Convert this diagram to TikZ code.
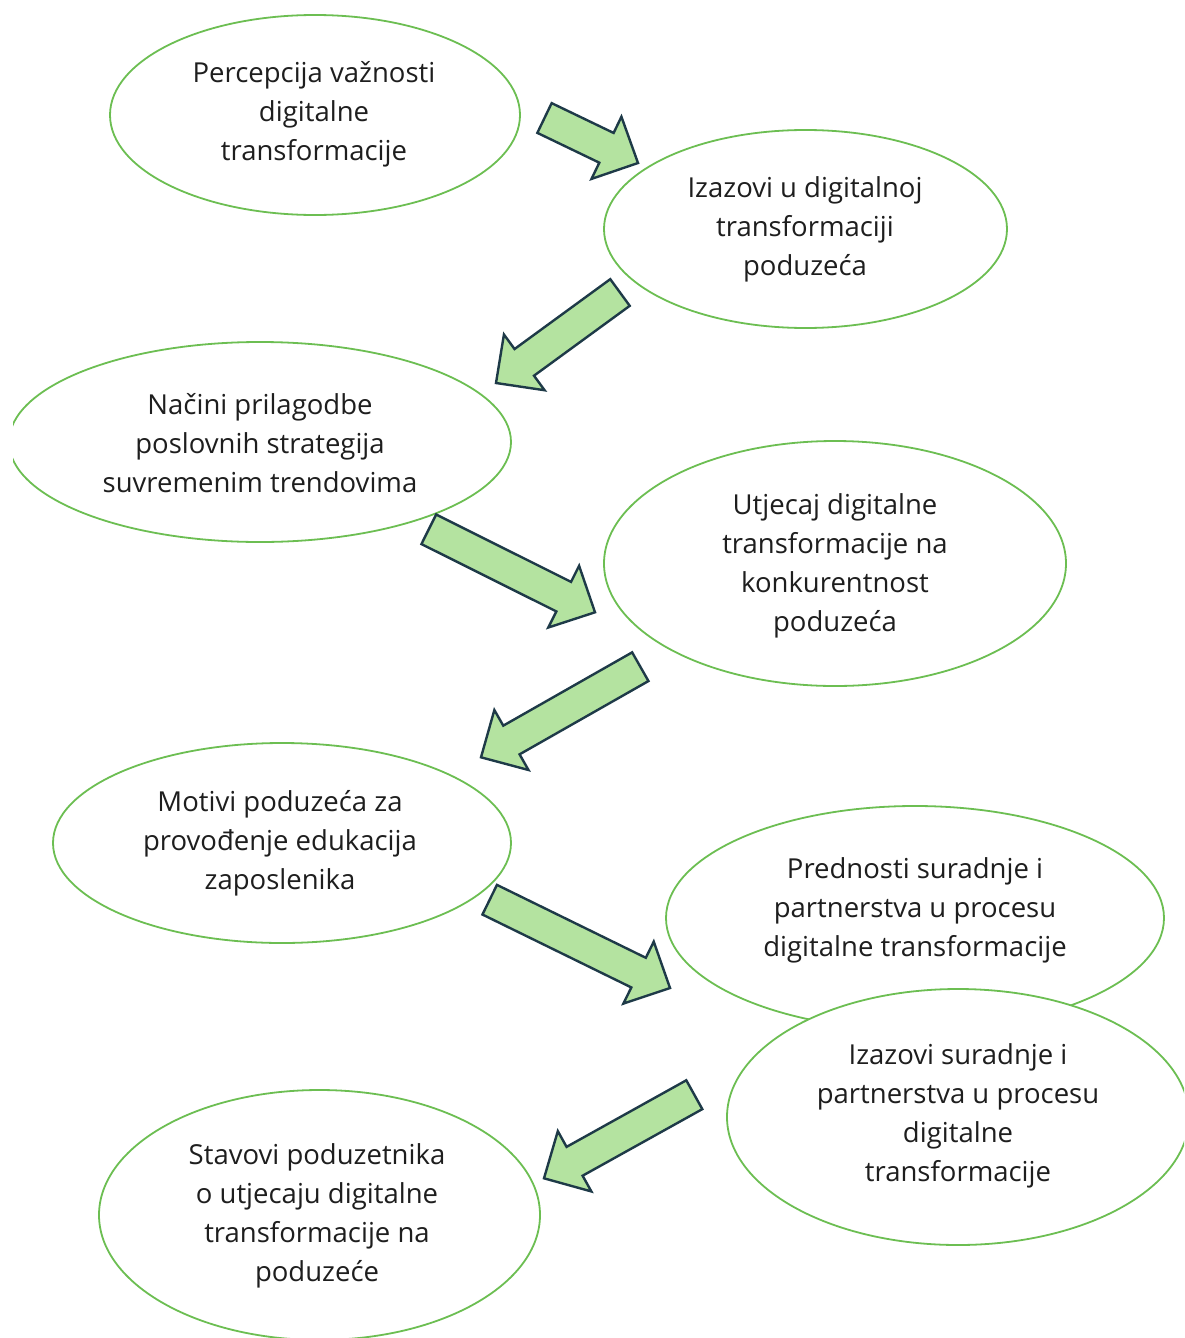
\documentclass[tikz,border=0pt]{standalone}
\usepackage{fontspec}
\setmainfont{Open Sans}
\usetikzlibrary{shapes.geometric,calc}
\definecolor{ellgreen}{RGB}{108,190,82}
\definecolor{arrfill}{RGB}{180,227,160}
\definecolor{arrline}{RGB}{30,58,72}
\definecolor{textc}{RGB}{30,30,30}
\tikzset{
  bubble/.style={ellipse, draw=ellgreen, line width=1.8pt, fill=white, inner sep=0pt, outer sep=0pt},
  btext/.style={align=center, text=textc, inner sep=0pt, font=\fontsize{27.5}{39}\selectfont},
  barrow/.style={draw=arrline, fill=arrfill, line width=2.4pt, line join=miter}
}
\newcommand\blockarrow[2]{%
  \coordinate (#1-b) at ($(#2)!35pt!(#1)$);
  \draw[barrow] ($(#1)!16.5pt!90:(#2)$) -- ($(#1-b)!16.5pt!90:(#2)$) -- ($(#1-b)!34.5pt!90:(#2)$) -- (#2)
     -- ($(#1-b)!34.5pt!-90:(#2)$) -- ($(#1-b)!16.5pt!-90:(#2)$) -- ($(#1)!16.5pt!-90:(#2)$) -- cycle;}
\begin{document}
\begin{tikzpicture}[x=1pt,y=-1pt]
\useasboundingbox (0,0) rectangle (1184,1338);
\begin{scope}
\clip (13,0) rectangle (1184,1338);
\node[bubble, minimum width=410pt, minimum height=200pt] (e1) at (315,115) {};
\node[bubble, minimum width=403pt, minimum height=198pt] (e2) at (805.5,229) {};
\node[bubble, minimum width=502pt, minimum height=200pt] (e3) at (260,442) {};
\node[bubble, minimum width=462pt, minimum height=245pt] (e4) at (835,563.5) {};
\node[bubble, minimum width=458pt, minimum height=200pt] (e5) at (282,843) {};
\node[bubble, minimum width=498pt, minimum height=224pt] (e6) at (915,918) {};
\node[bubble, minimum width=462pt, minimum height=256pt] (e7) at (958,1117) {};
\node[bubble, minimum width=441pt, minimum height=250pt] (e8) at (319.5,1215) {};
\end{scope}
\node[btext] (t1) at (314,114) {Percepcija važnosti\\digitalne\\transformacije};
\node[btext] (t2) at (805,229) {Izazovi u digitalnoj\\transformaciji\\poduzeća};
\node[btext] (t3) at (260,443) {Načini prilagodbe\\poslovnih strategija\\suvremenim trendovima};
\node[btext] (t4) at (835,566) {Utjecaj digitalne\\transformacije na\\konkurentnost\\poduzeća};
\node[btext] (t5) at (280,843) {Motivi poduzeća za\\provođenje edukacija\\zaposlenika};
\node[btext] (t6) at (915,910) {Prednosti suradnje i\\partnerstva u procesu\\digitalne transformacije};
\node[btext] (t7) at (958,1116) {Izazovi suradnje i\\partnerstva u procesu\\digitalne\\transformacije};
\node[btext] (t8) at (317,1216) {Stavovi poduzetnika\\o utjecaju digitalne\\transformacije na\\poduzeće};
\coordinate (a1) at (544.5,118);   \coordinate (a1h) at (638,163);
\coordinate (a2) at (620,292.5);   \coordinate (a2h) at (496,383);
\coordinate (a3) at (428.8,529.3); \coordinate (a3h) at (595,612.3);
\coordinate (a4) at (640.3,666.7); \coordinate (a4h) at (481,757.3);
\coordinate (a5) at (489.7,899.7); \coordinate (a5h) at (670,988);
\coordinate (a6) at (694.3,1094.7);\coordinate (a6h) at (544,1178.3);
\blockarrow{a1}{a1h}
\blockarrow{a2}{a2h}
\blockarrow{a3}{a3h}
\blockarrow{a4}{a4h}
\blockarrow{a5}{a5h}
\blockarrow{a6}{a6h}
\end{tikzpicture}
\end{document}
